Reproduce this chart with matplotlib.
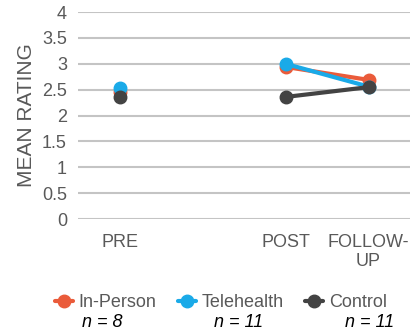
import numpy as np
import matplotlib
matplotlib.use('Agg')
import matplotlib.pyplot as plt

plt.rcParams['font.family'] = ['Liberation Sans', 'DejaVu Sans']

categories = ['PRE', '', 'POST', 'FOLLOW-\nUP']
in_person = [2.45, np.nan, 2.94, 2.69]
telehealth = [2.53, np.nan, 3.00, 2.56]
control = [2.36, np.nan, 2.36, 2.55]
group_names = ['In-Person', 'Telehealth', 'Control']
group_n = ['n = 8', 'n = 11', 'n = 11']
yticks = [0, 0.5, 1, 1.5, 2, 2.5, 3, 3.5, 4]

colors = ['#EA5B3A', '#1AAAE8', '#434343']
txt = '#595959'

fig = plt.figure(figsize=(4.13, 3.36), dpi=100)
ax = fig.add_axes([0.189, 0.348, 0.804, 0.616])

x = np.arange(len(categories))
for vals, name, c in zip([in_person, telehealth, control], group_names, colors):
    ax.plot(x, vals, color=c, lw=3, marker='o', ms=9, mec=c, label=name,
            solid_capstyle='round')

ax.set_xlim(-0.5, len(categories) - 0.5)
ax.set_ylim(0, 4)
ax.set_yticks(yticks)
ax.set_yticklabels(['0', '0.5', '1', '1.5', '2', '2.5', '3', '3.5', '4'])
ax.set_xticks(x)
ax.set_xticklabels(categories, linespacing=1.1)
ax.grid(axis='y', color='#c4c4c4', lw=1.5)
ax.set_axisbelow(True)
for s in ax.spines.values():
    s.set_visible(False)
ax.tick_params(axis='both', length=0, labelsize=13, labelcolor=txt)
ax.tick_params(axis='x', pad=11)
ax.tick_params(axis='y', pad=8)
ax.set_ylabel('MEAN RATING', fontsize=15, color=txt, labelpad=4)

fig.legend(loc='center', bbox_to_anchor=(0.535, 0.1), ncol=3, frameon=False,
           fontsize=13, handlelength=1.0, columnspacing=1.2, handletextpad=0.3,
           labelcolor=txt)

for xp, t in zip([0.248, 0.577, 0.895], group_n):
    fig.text(xp, 0.04, t, fontsize=13, style='italic', ha='center', va='center',
             color='black')

fig.savefig('out.png', dpi=100)
